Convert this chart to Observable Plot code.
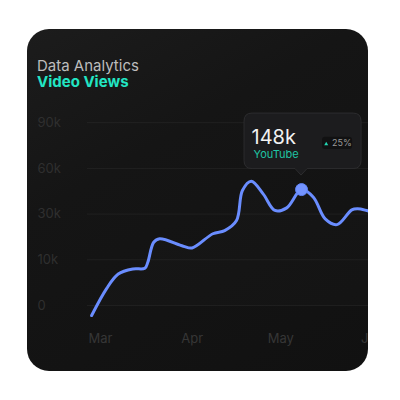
<!DOCTYPE html>
<html>
<head>
<meta charset="utf-8">
<script src="https://cdn.jsdelivr.net/npm/d3@7"></script>
<script src="https://cdn.jsdelivr.net/npm/@observablehq/plot@0.6"></script>
<style>
  html, body { margin: 0; padding: 0; background: #ffffff; width: 400px; height: 400px; overflow: hidden; font-family: Inter, "Noto Sans", sans-serif; }
  #card { position: absolute; left: 27px; top: 29px; width: 341px; height: 342px; border-radius: 22px; overflow: hidden;
          background: linear-gradient(150deg, #1c1c1c 0%, #151515 35%, #111111 100%); }
  .t1 { position: absolute; left: 10px; top: 27.5px; font-size: 15px; line-height: 18px; color: #bdbdbd; font-weight: 400; white-space: nowrap; }
  .t2 { position: absolute; left: 10px; top: 44.2px; font-size: 15px; line-height: 18px; color: #22e6c4; font-weight: 700; white-space: nowrap; }
  #chart { position: absolute; left: 0; top: 0; }
</style>
</head>
<body>
<div id="card">
  <div class="t1">Data Analytics</div>
  <div class="t2">Video Views</div>
  <div id="chart"></div>
</div>
<script>
// ---- data ----
const dates = [
  "2024-02-27","2024-03-03","2024-03-07","2024-03-12","2024-03-16","2024-03-17","2024-03-19","2024-03-21",
  "2024-03-29","2024-04-01","2024-04-08","2024-04-12","2024-04-16","2024-04-18","2024-04-21","2024-04-25",
  "2024-04-29","2024-05-03","2024-05-08","2024-05-12","2024-05-16","2024-05-20","2024-05-25","2024-05-27",
  "2024-05-31","2024-06-03"
];
const views = [
  -2200, 3650, 6900, 8000, 8150, 9450, 17700, 19200,
  15950, 15200, 21400, 22800, 27200, 45500, 51600, 43300,
  32400, 34100, 46100, 41100, 27900, 25400, 32800, 33500,
  31900, 31000
];
const yTicks = [0, 10000, 30000, 60000, 90000];
const yLabels = ["0", "10k", "30k", "60k", "90k"];
const monthDates = ["2024-03-01", "2024-04-01", "2024-05-01", "2024-06-01"];
const monthLabels = ["Mar", "Apr", "May", "Jun"];
const highlightDate = "2024-05-08";
const highlightValue = 46100;
const tipValue = "148k";
const tipSource = "YouTube";
const tipChange = "25%";

// ---- build ----
const data = dates.map((d, i) => ({date: new Date(d), value: views[i]}));
const months = monthDates.map((d, i) => ({date: new Date(d), label: monthLabels[i]}));
const hl = [{date: new Date(highlightDate), value: highlightValue}];

const lineColor = "#6a8dff";

const chart = Plot.plot({
  width: 341,
  height: 342,
  marginLeft: 60,
  marginRight: 0,
  marginTop: 0,
  marginBottom: 40,
  style: {background: "transparent", fontFamily: "Inter, sans-serif", overflow: "visible"},
  x: {type: "utc", axis: null, domain: [new Date("2024-03-01"), new Date("2024-06-01")], range: [73, 345]},
  y: {type: "linear", axis: null, domain: yTicks, range: [276, 230.3, 184.6, 138.9, 93.2]},
  marks: [
    Plot.gridY(yTicks, {stroke: "#ffffff", strokeOpacity: 0.05, strokeWidth: 1}),
    Plot.areaY(data, {x: "date", y: "value", curve: "catmull-rom", fill: "#ffffff", fillOpacity: 0.012}),
    Plot.text(yTicks, {y: d => d, text: (d, i) => yLabels[i], frameAnchor: "left", textAnchor: "start", dx: -50,
      fill: "#2f2f2f", fontSize: 13}),
    Plot.text(months, {x: "date", text: "label", frameAnchor: "bottom", lineAnchor: "middle", dy: 7,
      fill: "#363636", fontSize: 13}),
    Plot.line(data, {x: "date", y: "value", curve: "catmull-rom", stroke: lineColor, strokeWidth: 3,
      strokeLinecap: "round", strokeLinejoin: "round"}),
    Plot.dot(hl, {x: "date", y: "value", r: 6, fill: "#7393ff", stroke: "#5f83f5", strokeWidth: 1})
  ]
});

document.getElementById("chart").appendChild(chart);

// ---- tooltip anchored to the highlighted point via the plot's scales ----
const px = chart.scale("x").apply(hl[0].date);
const py = chart.scale("y").apply(hl[0].value);
const svg = d3.select(chart);
const g = svg.append("g").attr("transform", `translate(${px},${py})`).attr("text-anchor", "start");

const L = -57, R = 60, T = -76, B = -20.5, r = 8, tipY = -14, tw = 6;
const path = `M${L + r},${T} H${R - r} Q${R},${T} ${R},${T + r} V${B - r} Q${R},${B} ${R - r},${B}
  H${tw} L0,${tipY} L${-tw},${B} H${L + r} Q${L},${B} ${L},${B - r} V${T + r} Q${L},${T} ${L + r},${T} Z`;
g.append("path").attr("d", path).attr("fill", "#1c1c1e").attr("stroke", "#2c2c2e").attr("stroke-width", 1);

g.append("text").attr("x", -49.5).attr("y", -44.7).attr("text-anchor", "start").text(tipValue)
  .attr("fill", "#f2f2f2").attr("font-size", 20).attr("font-weight", 400).attr("font-family", "Inter, sans-serif");
g.append("text").attr("x", -47.5).attr("y", -30.7).attr("text-anchor", "start").text(tipSource)
  .attr("fill", "#1fc4a4").attr("font-size", 11).attr("font-family", "Inter, sans-serif");

g.append("rect").attr("x", 21).attr("y", -52.3).attr("width", 30).attr("height", 12.3).attr("rx", 3)
  .attr("fill", "#111112");
g.append("path").attr("d", "M23.2,-43.8 L25.2,-47.3 L27.2,-43.8 Z").attr("fill", "#22d6b3");
g.append("text").attr("x", 31).attr("y", -43.2).attr("text-anchor", "start").text(tipChange)
  .attr("fill", "#9a9a9a").attr("font-size", 9).attr("font-family", "Inter, sans-serif");
</script>
</body>
</html>
